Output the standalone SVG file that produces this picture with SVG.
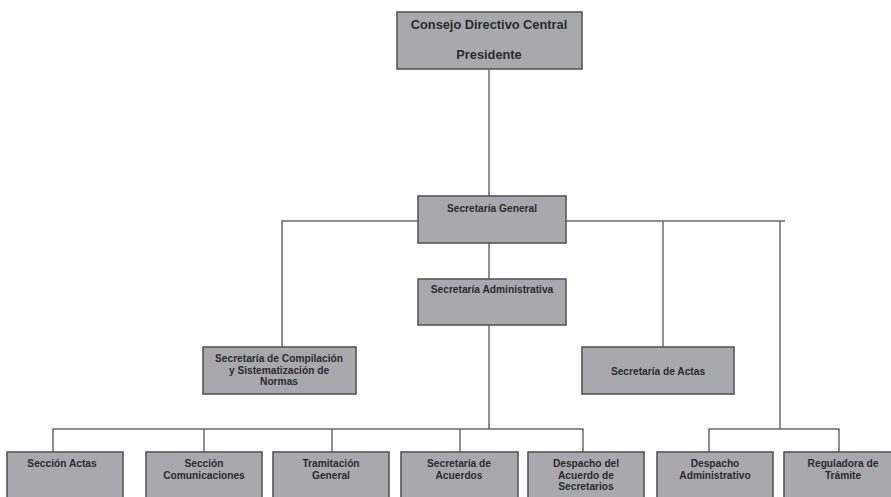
<svg xmlns="http://www.w3.org/2000/svg" width="891" height="497" viewBox="0 0 891 497">
<style>
.box{fill:#a9a9ad;stroke:#56565a;stroke-width:1.6}
.t{font-family:"Liberation Sans",Arial,sans-serif;font-weight:bold;fill:#2a2a2e;text-anchor:middle;font-size:10.2px}
.tl{font-size:12.8px}
.c{fill:none;stroke:#6a6a6e;stroke-width:1.5}
</style>
<rect width="891" height="497" fill="#ffffff"/>
<g id="connectors">
<path class="c" d="M489 70V196M489 243V279M282 347V221H418M566 221H785M663 221V347M780 221V429M489 325V429M53 452V429H583V452M204 429V452M332 429V452M460 429V452M709 452V429H839V452"/>
</g>
<g id="n-consejo">
<rect class="box" x="397" y="12" width="185" height="57"/>
<text class="t tl" x="489" y="29">Consejo Directivo Central</text>
<text class="t tl" x="489" y="59">Presidente</text>
</g>
<g id="n-general">
<rect class="box" x="418" y="196" width="148" height="47"/>
<text class="t" x="492" y="212">Secretaría General</text>
</g>
<g id="n-administrativa">
<rect class="box" x="418" y="279" width="148" height="46"/>
<text class="t" x="492" y="293">Secretaría Administrativa</text>
</g>
<g id="n-compilacion">
<rect class="box" x="203" y="347" width="153" height="47"/>
<text class="t" x="279" y="362">Secretaría de Compilación</text>
<text class="t" x="279" y="374">y Sistematización de</text>
<text class="t" x="279" y="385">Normas</text>
</g>
<g id="n-actas">
<rect class="box" x="582" y="347" width="152" height="47"/>
<text class="t" x="658" y="375">Secretaría de Actas</text>
</g>
<g id="n-seccion-actas">
<rect class="box" x="7" y="452" width="116" height="50"/>
<text class="t" x="62" y="467">Sección Actas</text>
</g>
<g id="n-comunicaciones">
<rect class="box" x="146" y="452" width="116" height="50"/>
<text class="t" x="204" y="467">Sección</text>
<text class="t" x="204" y="479">Comunicaciones</text>
</g>
<g id="n-tramitacion">
<rect class="box" x="273" y="452" width="116" height="50"/>
<text class="t" x="331" y="467">Tramitación</text>
<text class="t" x="331" y="479">General</text>
</g>
<g id="n-acuerdos">
<rect class="box" x="401" y="452" width="117" height="50"/>
<text class="t" x="459" y="467">Secretaría de</text>
<text class="t" x="459" y="479">Acuerdos</text>
</g>
<g id="n-despacho-acuerdo">
<rect class="box" x="528" y="452" width="116" height="50"/>
<text class="t" x="586" y="467">Despacho del</text>
<text class="t" x="586" y="479">Acuerdo de</text>
<text class="t" x="586" y="490">Secretarios</text>
</g>
<g id="n-despacho-admin">
<rect class="box" x="657" y="452" width="116" height="50"/>
<text class="t" x="715" y="467">Despacho</text>
<text class="t" x="715" y="479">Administrativo</text>
</g>
<g id="n-reguladora">
<rect class="box" x="784" y="452" width="118" height="50"/>
<text class="t" x="843" y="467">Reguladora de</text>
<text class="t" x="843" y="479">Trámite</text>
</g>
</svg>
